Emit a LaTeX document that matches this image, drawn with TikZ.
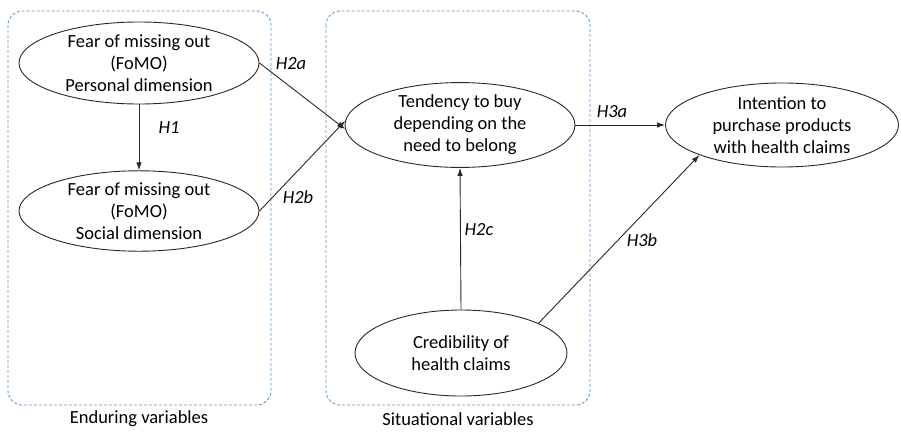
\documentclass[tikz,border=0pt]{standalone}
\usepackage{fontspec}
\setmainfont{Carlito}
\usetikzlibrary{shapes.geometric,arrows.meta}
\definecolor{boxblue}{RGB}{91,155,213}
\definecolor{lineg}{RGB}{40,40,40}
\begin{document}
\begin{tikzpicture}[x=1pt,y=-1pt,
  varbox/.style={draw=boxblue, line width=0.9pt, dash pattern=on 3pt off 2pt, rounded corners=14pt},
  oval/.style={ellipse, draw=lineg, line width=0.9pt, inner sep=0pt, align=center,
     font=\fontsize{18.5}{22}\selectfont},
  hlab/.style={font=\fontsize{18.5}{22}\selectfont\itshape},
  glab/.style={font=\fontsize{18.5}{22}\selectfont, inner sep=0pt},
  conn/.style={draw=lineg, line width=0.9pt, -{Latex[length=8pt,width=5.5pt]}}]
\useasboundingbox (0,0) rectangle (901,431);
\draw[varbox] (8,11) rectangle (271,405);
\draw[varbox] (326,11) rectangle (590,405);
\node[glab] (endur) at (139,419) {Enduring variables};
\node[glab] (situ) at (458,419) {Situational variables};
\node[oval, minimum width=240pt, minimum height=82pt] (pers) at (139,63) {Fear of missing out\\(FoMO)\\Personal dimension};
\node[oval, minimum width=240pt, minimum height=79pt] (soc) at (139,211) {Fear of missing out\\(FoMO)\\Social dimension};
\node[oval, minimum width=230pt, minimum height=84pt] (tend) at (460,125) {Tendency to buy\\depending on the\\need to belong};
\node[oval, minimum width=212pt, minimum height=86pt] (cred) at (461,353) {Credibility of\\health claims};
\node[oval, minimum width=233pt, minimum height=84pt] (inten) at (782,125) {Intention to\\purchase products\\with health claims};
\draw[conn] (pers) -- (soc);
\draw[conn] (pers.east) -- (tend.182);
\draw[conn] (soc.east) -- (tend.178);
\draw[conn] (tend.east) -- (inten.west);
\draw[conn] (cred.north) -- (tend.south);
\draw[conn] (cred.21) -- (inten.200);
\node[hlab] (h1) at (169,128) {H1};
\node[hlab] (h2a) at (291,64) {H2a};
\node[hlab] (h2b) at (298,197) {H2b};
\node[hlab] (h3a) at (612,112) {H3a};
\node[hlab] (h2c) at (479,230) {H2c};
\node[hlab] (h3b) at (642,240) {H3b};
\end{tikzpicture}
\end{document}
